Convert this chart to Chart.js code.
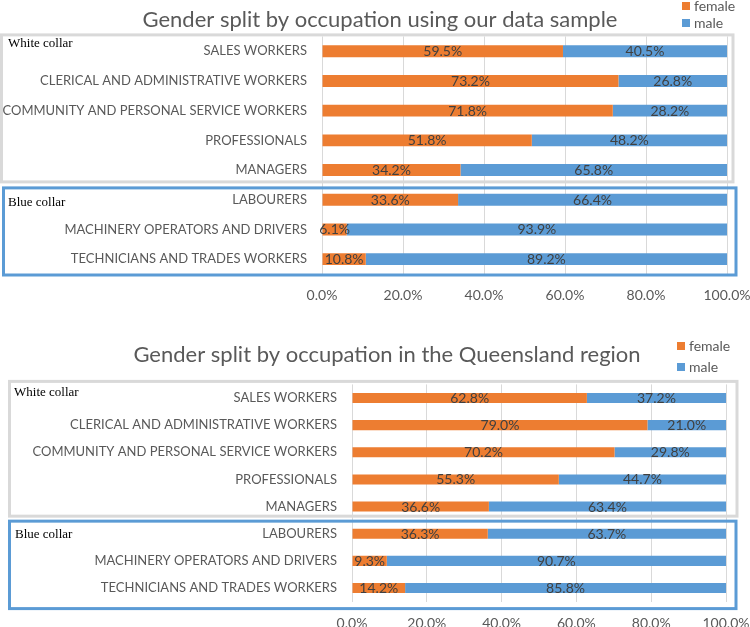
<!DOCTYPE html>
<html>
<head>
<meta charset="utf-8">
<script src="https://cdn.jsdelivr.net/npm/chart.js@4.4.0/dist/chart.umd.min.js"></script>
<style>
  html,body{margin:0;padding:0;background:#fff;width:750px;height:627px;overflow:hidden;}
  .wrap{position:absolute;left:0;width:750px;}
  canvas{display:block;}
</style>
</head>
<body>
<div class="wrap" style="top:0;height:310px;"><canvas id="c1" width="750" height="310"></canvas></div>
<div class="wrap" style="top:320px;height:307px;"><canvas id="c2" width="750" height="307"></canvas></div>
<script>
// ---- data ----
const categories = ['SALES WORKERS','CLERICAL AND ADMINISTRATIVE WORKERS','COMMUNITY AND PERSONAL SERVICE WORKERS','PROFESSIONALS','MANAGERS','LABOURERS','MACHINERY OPERATORS AND DRIVERS','TECHNICIANS AND TRADES WORKERS'];
const sampleFemale = [59.5,73.2,71.8,51.8,34.2,33.6,6.1,10.8];
const sampleMale   = [40.5,26.8,28.2,48.2,65.8,66.4,93.9,89.2];
const qldFemale    = [62.8,79.0,70.2,55.3,36.6,36.3,9.3,14.2];
const qldMale      = [37.2,21.0,29.8,44.7,63.4,63.7,90.7,85.8];
const seriesNames  = ['female','male'];
const xTickValues  = [0,20,40,60,80,100];
const groupNames   = ['White collar','Blue collar'];
const groupSizes   = [5,3];
const titles = ['Gender split by occupation using our data sample','Gender split by occupation in the Queensland region'];

const ORANGE='#ED7D31', BLUE='#5B9BD5', GREY='#595959';
const SANS='Lato, "Open Sans", sans-serif';

const decorPlugin = {
  id:'decor',
  afterLayout(chart, args, o){
    const t = chart.titleBlock;
    if (t) { t.left += o.titleShift; t.right += o.titleShift; }
  },
  afterDraw(chart, args, o){
    const ctx = chart.ctx, y = chart.scales.y, ca = chart.chartArea;
    ctx.save();
    // data labels
    ctx.font = '14px '+SANS; ctx.fillStyle='#404040'; ctx.textAlign='center'; ctx.textBaseline='middle';
    chart.data.datasets.forEach((ds,di)=>{
      chart.getDatasetMeta(di).data.forEach((el,i)=>{
        ctx.fillText(ds.data[i].toFixed(1)+'%', (el.x+el.base)/2, el.y+0.5);
      });
    });
    // group boxes
    const step = y.getPixelForValue(1)-y.getPixelForValue(0);
    let start=0;
    groupSizes.forEach((n,g)=>{
      const b = o.boxes[g];
      const top = y.getPixelForValue(start)-step/2 + b.dt;
      const bot = y.getPixelForValue(start+n-1)+step/2 + b.db;
      ctx.lineWidth = 3; ctx.strokeStyle = g===0 ? '#D9D9D9' : BLUE;
      ctx.strokeRect(b.x1, top, ca.right + b.dr - b.x1, bot-top);
      ctx.font = '13px "Liberation Serif", serif'; ctx.fillStyle='#000'; ctx.textAlign='left'; ctx.textBaseline='middle';
      ctx.fillText(groupNames[g], b.lx, y.getPixelForValue(start)+b.ly);
      start += n;
    });
    // legend
    ctx.font = '14px '+SANS; ctx.textBaseline='middle'; ctx.textAlign='left';
    chart.data.datasets.forEach((ds,di)=>{
      const ly = o.legend.y + di*o.legend.gap;
      ctx.fillStyle = ds.backgroundColor;
      ctx.fillRect(o.legend.x, ly-4, 8, 8);
      ctx.fillStyle = GREY;
      ctx.fillText(ds.label, o.legend.x+12, ly);
    });
    ctx.restore();
  }
};

function makeChart(id, title, female, male, cfg){
  return new Chart(document.getElementById(id), {
    type:'bar',
    data:{
      labels: categories,
      datasets:[
        {label:seriesNames[0], data:female, backgroundColor:ORANGE, borderWidth:0, barPercentage:cfg.barPct, categoryPercentage:1},
        {label:seriesNames[1], data:male, backgroundColor:BLUE, borderWidth:0, barPercentage:cfg.barPct, categoryPercentage:1}
      ]
    },
    options:{
      indexAxis:'y', responsive:false, animation:false, devicePixelRatio:1,
      layout:{padding:{left:0,right:cfg.padRight,top:0,bottom:0}},
      plugins:{
        legend:{display:false}, tooltip:{enabled:false},
        title:{display:true, text:title, color:GREY, font:{family:SANS,size:22,weight:'normal'}, padding:{top:cfg.titleTop,bottom:cfg.titleBottom}},
        decor:cfg.decor
      },
      scales:{
        x:{stacked:true, min:0, max:100,
           afterBuildTicks(s){ s.ticks = xTickValues.map(v=>({value:v})); },
           afterFit(s){ s.height = cfg.xHeight; s.paddingLeft = 0; s.paddingRight = 0; },
           ticks:{callback:v=>v.toFixed(1)+'%', color:GREY, font:{family:SANS,size:14}, padding:cfg.xPad, maxRotation:0},
           grid:{color:'#D9D9D9', drawTicks:false, lineWidth:1}, border:{display:false}},
        y:{stacked:true,
           afterFit(s){ s.width = cfg.left; s.paddingTop = 0; s.paddingBottom = 0; },
           ticks:{color:GREY, font:{family:SANS,size:13}, padding:15, autoSkip:false},
           grid:{display:false, drawTicks:false}, border:{display:false}}
      }
    },
    plugins:[decorPlugin]
  });
}

makeChart('c1', titles[0], sampleFemale, sampleMale, {
  barPct:0.4, padRight:23, titleTop:7, titleBottom:3, xHeight:36, xPad:13, left:322,
  decor:{titleShift:16.5,
         boxes:[{x1:1.5,dt:-1.5,db:-3,dr:6,lx:8,ly:-8},{x1:3.5,dt:3,db:1,dr:9,lx:8,ly:3}],
         legend:{x:682,y:6,gap:17}}
});
makeChart('c2', titles[1], qldFemale, qldMale, {
  barPct:0.37, padRight:24, titleTop:22, titleBottom:16, xHeight:25.4, xPad:13, left:352,
  decor:{titleShift:24,
         boxes:[{x1:9.5,dt:-3,db:-4,dr:11,lx:14,ly:-5},{x1:9.5,dt:1,db:7,dr:10,lx:15,ly:1}],
         legend:{x:677,y:26,gap:21}}
});
</script>
</body>
</html>
